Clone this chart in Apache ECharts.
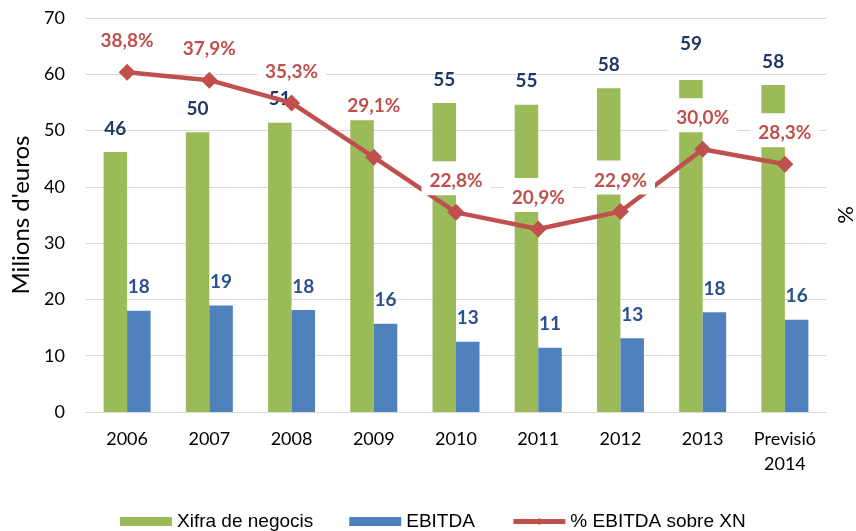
<!DOCTYPE html>
<html>
<head>
<meta charset="utf-8">
<script src="https://cdn.jsdelivr.net/npm/echarts@6/dist/echarts.min.js"></script>
<style>html,body{margin:0;padding:0;background:#fff;}#c{width:856px;height:531px;}</style>
</head>
<body>
<div id="c"></div>
<script>
const categories = ['2006', '2007', '2008', '2009', '2010', '2011', '2012', '2013', 'Previsió\n2014'];
const xifraNegocis = [46.2, 49.7, 51.4, 51.9, 54.9, 54.6, 57.5, 59.0, 58.1];
const ebitda = [18.0, 18.9, 18.1, 15.7, 12.5, 11.4, 13.1, 17.7, 16.4];
const ebitdaPct = [38.8, 37.9, 35.3, 29.1, 22.8, 20.9, 22.9, 30.0, 28.3];
const leftTicks = { min: 0, max: 70, interval: 10 };

const GREEN = '#9BBB59', BLUE = '#4F81BD', RED = '#C0504D';
const FONT = 'Lato, "Open Sans", sans-serif';

const greenData = xifraNegocis.map((v, i) => {
  const d = { value: v };
  if (i === 3) d.label = { show: false };
  if (i === 7) d.label = { offset: [0, -13] };
  return d;
});
const pctData = ebitdaPct.map((v, i) => {
  const d = { value: v };
  if (i === 3) d.label = { offset: [0, -20] };
  return d;
});

const chart = echarts.init(document.getElementById('c'), null, { renderer: 'canvas' });
chart.setOption({
  animation: false,
  backgroundColor: '#fff',
  grid: { left: 86, right: 30, top: 18, bottom: 119, containLabel: false, outerBoundsMode: 'none' },
  legend: {
    left: 115, top: 507,
    itemWidth: 52, itemHeight: 9, itemGap: 36,
    textStyle: { fontFamily: '"Liberation Sans", Arial, sans-serif', fontSize: 19, color: '#000' },
    data: [
      { name: 'Xifra de negocis', icon: 'rect' },
      { name: 'EBITDA', icon: 'rect' },
      { name: '% EBITDA sobre XN', lineStyle: { width: 5 } }
    ]
  },
  xAxis: {
    type: 'category',
    data: categories,
    axisLine: { lineStyle: { color: '#D9D9D9', width: 1 } },
    axisTick: { show: false },
    axisLabel: { interval: 0, color: '#000', fontFamily: FONT, fontSize: 18, lineHeight: 25, margin: 15 }
  },
  yAxis: [
    {
      type: 'value', min: leftTicks.min, max: leftTicks.max, interval: leftTicks.interval,
      name: "Milions d'euros", nameLocation: 'middle', nameGap: 52, nameRotate: 90,
      nameTextStyle: { fontFamily: FONT, fontSize: 24, color: '#000' },
      axisLine: { show: false }, axisTick: { show: false },
      axisLabel: { color: '#000', fontFamily: FONT, fontSize: 18, margin: 21 },
      splitLine: { lineStyle: { color: '#D9D9D9', width: 1 } }
    },
    {
      type: 'value', min: 0, max: 45,
      name: '%', nameLocation: 'middle', nameGap: 9, nameRotate: 90,
      nameTextStyle: { fontFamily: FONT, fontSize: 22, color: '#000' },
      axisLine: { show: false }, axisTick: { show: false },
      axisLabel: { show: false }, splitLine: { show: false }
    }
  ],
  series: [
    {
      name: 'Xifra de negocis', type: 'bar', data: greenData,
      barWidth: 23.5, barGap: '0%',
      itemStyle: { color: GREEN },
      label: { show: true, position: 'top', distance: 13.5, lineHeight: 20,
        formatter: p => Math.round(p.value),
        fontFamily: FONT, fontSize: 19, fontWeight: 'bold', color: '#1F3864' }
    },
    {
      name: 'EBITDA', type: 'bar', data: ebitda,
      barWidth: 23.5, barGap: '0%',
      itemStyle: { color: BLUE },
      label: { show: true, position: 'top', distance: 13.5, lineHeight: 20,
        formatter: p => Math.round(p.value),
        fontFamily: FONT, fontSize: 19, fontWeight: 'bold', color: '#2A508F' }
    },
    {
      name: '% EBITDA sobre XN', type: 'line', yAxisIndex: 1, data: pctData,
      symbol: 'diamond', symbolSize: 17,
      lineStyle: { color: RED, width: 4.5 },
      itemStyle: { color: RED },
      label: { show: true, position: 'top', distance: 8.5, lineHeight: 20,
        padding: [10, 8, 4, 8], backgroundColor: '#fff',
        formatter: p => p.value.toFixed(1).replace('.', ',') + '%',
        fontFamily: FONT, fontSize: 19, fontWeight: 'bold', color: RED }
    }
  ]
});
</script>
</body>
</html>
